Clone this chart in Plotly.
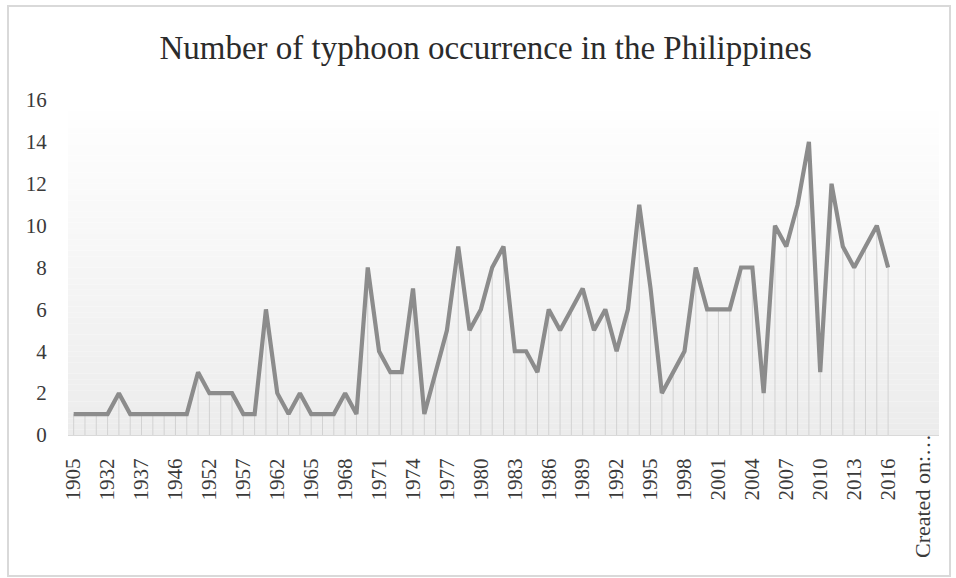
import plotly.graph_objects as go

# Years (category axis); only every third one is labelled
years = [
    "1905", "1912", "1925", "1932", "1934", "1936", "1937", "1938", "1940",
    "1946", "1947", "1949", "1952", "1953", "1955", "1957", "1958", "1960",
] + [str(y) for y in range(1962, 2019)] + ["Created on:…"]

# Number of typhoons per year
counts = [
    1, 1, 1, 1, 2, 1, 1, 1, 1, 1, 1, 3, 2, 2, 2, 1, 1, 6,
    2, 1, 2, 1, 1, 1, 2, 1, 8, 4, 3, 3, 7, 1, 3, 5, 9, 5,
    6, 8, 9, 4, 4, 3, 6, 5, 6, 7, 5, 6, 4, 6, 11, 7, 2, 3,
    4, 8, 6, 6, 6, 8, 8, 2, 10, 9, 11, 14, 3, 12, 9, 8, 9, 10, 8,
]

title_text = "Number of typhoon occurrence in the Philippines"

W, H = 956, 578
ML, MR, MT, MB = 68, 17, 100, 143
PW, PH = W - ML - MR, H - MT - MB

FONT = "Liberation Serif"
LINE_COLOR = "#8c8c8c"
DROP_COLOR = "#d2d2d2"
TICK_COLOR = "#3a3a3a"

series_x = years[:len(counts)]

# vertical drop lines from each point down to zero
drop_x, drop_y = [], []
for cat, val in zip(series_x, counts):
    drop_x += [cat, cat, None]
    drop_y += [0, val, None]

fig = go.Figure()
fig.add_trace(go.Scatter(
    x=drop_x, y=drop_y, mode="lines",
    line=dict(color=DROP_COLOR, width=1),
    hoverinfo="skip", showlegend=False,
))
fig.add_trace(go.Scatter(
    x=series_x, y=counts, mode="lines",
    line=dict(color=LINE_COLOR, width=4.2),
    name="Typhoons", showlegend=False,
))

# plot-area background: soft vertical gradient, light grey at the bottom
shapes = []
n_bands = 60
top_rgb = (255, 255, 255)
bot_rgb = (236, 236, 236)
for k in range(n_bands):
    t = (k + 0.5) / n_bands
    c = tuple(round(bot_rgb[j] + (top_rgb[j] - bot_rgb[j]) * t) for j in range(3))
    shapes.append(dict(
        type="rect", xref="x domain", yref="y domain",
        x0=0, x1=1, y0=k / n_bands, y1=(k + 1) / n_bands,
        fillcolor="rgb(%d,%d,%d)" % c, line=dict(width=0), layer="below",
    ))

# outer chart border (pixel box converted to paper coordinates)
def px_x(px):
    return (px - ML) / PW

def px_y(py):
    return (H - MB - py) / PH

shapes.append(dict(
    type="rect", xref="paper", yref="paper",
    x0=px_x(8), x1=px_x(950), y0=px_y(576), y1=px_y(6),
    line=dict(color="#d9d9d9", width=2), fillcolor="rgba(0,0,0,0)",
    layer="below",
))

# every third category gets a label; the trailing note is drawn separately
tick_vals = years[::3]
tick_text = [t if t != years[-1] else "" for t in tick_vals]

fig.update_layout(
    width=W, height=H,
    margin=dict(l=ML, r=MR, t=MT, b=MB, autoexpand=False),
    paper_bgcolor="white",
    plot_bgcolor="rgba(0,0,0,0)",
    shapes=shapes,
    title=dict(
        text=title_text, x=0.508, xanchor="center",
        yref="container", y=1 - 47 / H, yanchor="middle",
        font=dict(family=FONT, size=33, color="#2b2b2b"),
    ),
    annotations=[dict(
        text=years[-1], x=years[-1], xref="x",
        y=px_y(496), yref="paper", textangle=-90,
        showarrow=False, xanchor="center", yanchor="middle",
        font=dict(family=FONT, size=22, color=TICK_COLOR),
    )],
    xaxis=dict(
        type="category", automargin=False,
        categoryorder="array", categoryarray=years,
        range=[-0.5, len(years) + 0.5],
        tickmode="array", tickvals=tick_vals, ticktext=tick_text,
        tickangle=-90,
        ticks="outside", ticklen=14, tickcolor="rgba(0,0,0,0)",
        showline=True, linecolor="#d9d9d9", linewidth=1,
        showgrid=False, zeroline=False,
        tickfont=dict(family=FONT, size=21, color=TICK_COLOR),
    ),
    yaxis=dict(
        range=[0, 16], dtick=2, tick0=0, automargin=False,
        ticks="outside", ticklen=16, tickcolor="rgba(0,0,0,0)",
        showline=False, showgrid=False, zeroline=False,
        tickfont=dict(family=FONT, size=21, color=TICK_COLOR),
    ),
    hovermode="closest",
)

fig.write_html("out.html")
